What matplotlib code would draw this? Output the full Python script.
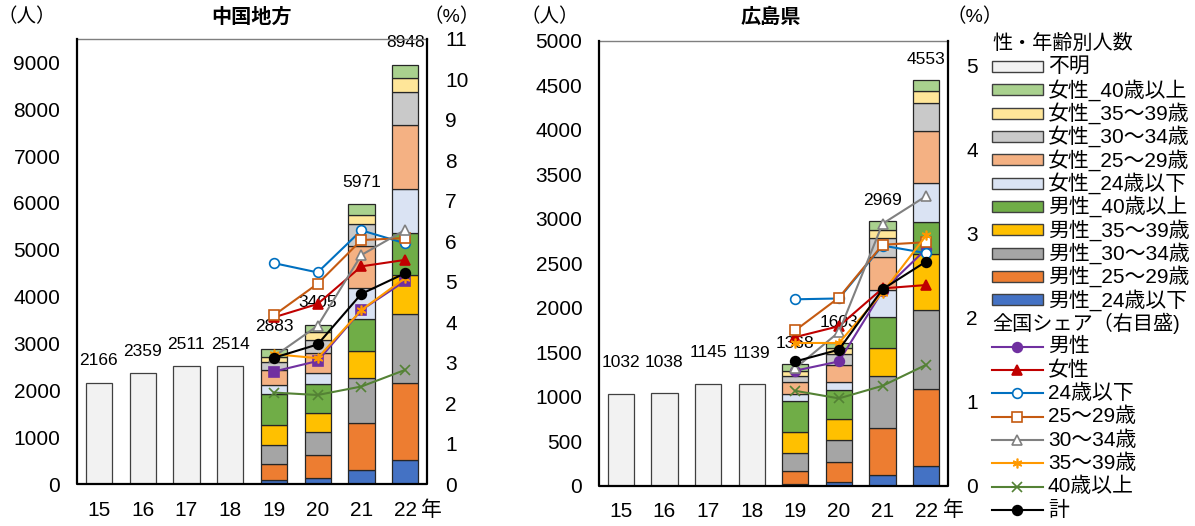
import matplotlib
matplotlib.use('Agg')
import matplotlib.pyplot as plt
from matplotlib.patches import Rectangle
from matplotlib.lines import Line2D
import numpy as np

plt.rcParams['font.family'] = ['Liberation Sans', 'Noto Sans CJK JP']

years = ['15', '16', '17', '18', '19', '20', '21', '22']

age_names = ['24歳以下', '25～29歳', '30～34歳', '35～39歳', '40歳以上']
male_colors = ['#4472C4', '#ED7D31', '#A5A5A5', '#FFC000', '#70AD47']
female_colors = ['#DAE3F3', '#F4B183', '#C9C9C9', '#FFE699', '#A9D18E']
unknown_color = '#F2F2F2'

share_names = ['男性', '女性', '24歳以下', '25～29歳', '30～34歳', '35～39歳', '40歳以上', '計']
share_colors = ['#7030A0', '#C00000', '#0070C0', '#C55A11', '#808080', '#FF9900', '#548235', '#000000']
share_markers = ['o', '^', 'o', 's', '^', (6, 2, 0), 'x', 'o']
share_faces = ['#7030A0', '#C00000', 'white', 'white', 'white', '#FF9900', '#548235', '#000000']

# 中国地方 (15-18: 不明のみ, 19-22: 性・年齢別)
chugoku_unknown = [2166, 2359, 2511, 2514]
chugoku_total = [2883, 3405, 5971, 8948]
chugoku_male = [
    [78, 128, 305, 503],
    [348, 483, 1006, 1658],
    [398, 497, 956, 1460],
    [440, 398, 574, 843],
    [653, 639, 687, 886],
]
chugoku_female = [
    [199, 234, 666, 943],
    [320, 426, 892, 1361],
    [163, 270, 460, 716],
    [114, 163, 205, 298],
    [170, 167, 220, 280],
]
chugoku_share = [
    [2.78, 3.04, 4.30, 5.02],
    [4.12, 4.45, 5.38, 5.54],
    [5.46, 5.23, 6.27, 5.95],
    [4.17, 4.95, 6.03, 6.08],
    [3.15, 3.91, 5.66, 6.28],
    [3.21, 3.11, 4.30, 5.09],
    [2.26, 2.20, 2.41, 2.82],
    [3.12, 3.45, 4.70, 5.21],
]

# 広島県
hiroshima_unknown = [1032, 1038, 1145, 1139]
hiroshima_total = [1368, 1603, 2969, 4553]
hiroshima_male = [
    [19, 39, 120, 225],
    [142, 230, 527, 862],
    [203, 245, 583, 888],
    [238, 230, 320, 626],
    [352, 335, 350, 367],
]
hiroshima_female = [
    [80, 86, 297, 438],
    [130, 195, 376, 581],
    [69, 124, 211, 311],
    [57, 62, 90, 139],
    [78, 57, 95, 116],
]
hiroshima_share = [
    [1.37, 1.48, 2.32, 2.82],
    [1.77, 1.90, 2.35, 2.39],
    [2.22, 2.23, 2.86, 2.77],
    [1.85, 2.24, 2.87, 2.90],
    [1.40, 1.83, 3.12, 3.45],
    [1.70, 1.70, 2.30, 2.98],
    [1.13, 1.04, 1.19, 1.44],
    [1.48, 1.62, 2.34, 2.67],
]

W, H = 1195, 526
fig = plt.figure(figsize=(W / 100, H / 100), dpi=100)
ax_l = fig.add_axes([77 / W, 1 - 484 / H, 350 / W, 445 / H])
ax_r = fig.add_axes([599 / W, 1 - 485.7 / H, 349 / W, 445 / H])


def draw_panel(ax, unknown, totals, male, female, share, ymax, ystep, ymax2, yticks2,
               male_marker, unk_off, tot_off):
    x = np.arange(len(years))
    xo, xn = x[:4], x[4:]
    ax.bar(xo, unknown, width=0.6, color=unknown_color, edgecolor='#404040', linewidth=0.9, zorder=2)
    bottom = np.zeros(4)
    for vals, color in zip(male + female, male_colors + female_colors):
        ax.bar(xn, vals, width=0.6, bottom=bottom, color=color, edgecolor='#262626',
               linewidth=0.9, zorder=2)
        bottom += np.array(vals)
    for xi, v in zip(xo, unknown):
        ax.annotate(str(v), (xi, v), xytext=(0, unk_off), textcoords='offset points',
                    ha='center', va='center', fontsize=12.5)
    for xi, v in zip(xn, totals):
        ax.annotate(str(v), (xi, v), xytext=(0, tot_off), textcoords='offset points',
                    ha='center', va='center', fontsize=12.5)
    ax.set_xlim(-0.5, len(years) - 0.5)
    ax.set_ylim(0, ymax)
    ax.set_yticks(np.arange(0, ymax + 1, ystep))
    ax.set_xticks(x, years)
    ax.tick_params(axis='y', length=0, pad=12, labelsize=15)
    ax.tick_params(axis='x', length=0, pad=12, labelsize=15)
    for s in ax.spines.values():
        s.set_visible(False)

    ax2 = ax.twinx()
    for i, vals in enumerate(share):
        marker = male_marker if i == 0 else share_markers[i]
        ax2.plot(xn, vals, color=share_colors[i], lw=1.5, marker=marker, ms=7,
                 mfc=share_faces[i], mec=share_colors[i], mew=1.2, zorder=3 + i)
    ax2.set_ylim(0, ymax2)
    ax2.set_yticks(yticks2)
    ax2.tick_params(axis='y', length=0, pad=13, labelsize=15)
    for s in ax2.spines.values():
        s.set_visible(False)
    return ax2


draw_panel(ax_l, chugoku_unknown, chugoku_total, chugoku_male, chugoku_female, chugoku_share,
           9500, 1000, 11, range(0, 12), 's', 16, 16)
draw_panel(ax_r, hiroshima_unknown, hiroshima_total, hiroshima_male, hiroshima_female,
           hiroshima_share, 5000, 500, 5.3, range(0, 6), 'o', 22.5, 15)

# overlay in pixel coordinates for frames, titles, units and legend
ov = fig.add_axes([0, 0, 1, 1])
ov.set_xlim(0, W)
ov.set_ylim(H, 0)
ov.axis('off')

for ax in [ax_l, ax_r]:
    p = ax.get_position()
    x0, x1 = p.x0 * W, p.x1 * W
    yb, yt = (1 - p.y0) * H, (1 - p.y1) * H
    ov.plot([x0, x1], [yt, yt], color='#7F7F7F', lw=1.0)
    ov.plot([x0, x0, x1, x1], [yt, yb, yb, yt], color='black', lw=1.6)

ov.text(252, 17, '中国地方', ha='center', va='center', fontsize=14.5, fontweight='bold')
ov.text(771, 17, '広島県', ha='center', va='center', fontsize=14.5, fontweight='bold')
for xp in [27, 550]:
    ov.text(xp, 17, '（人）', ha='center', va='center', fontsize=14)
for xp in [452, 975]:
    ov.text(xp, 17, '（%）', ha='center', va='center', fontsize=14)
for xp in [431, 953]:
    ov.text(xp, 510, '年', ha='center', va='center', fontsize=15)

row0, dy = 43, 23.35
hx0, hx1, tx = 992, 1043, 1048
fs = 15
ov.text(hx0, row0, '性・年齢別人数', ha='left', va='center', fontsize=14.5)
patch_items = [('不明', unknown_color)]
patch_items += [('女性_' + n, c) for n, c in zip(age_names[::-1], female_colors[::-1])]
patch_items += [('男性_' + n, c) for n, c in zip(age_names[::-1], male_colors[::-1])]
for i, (name, color) in enumerate(patch_items):
    y = row0 + dy * (i + 1)
    ov.add_patch(Rectangle((hx0, y - 5.5), hx1 - hx0, 11, facecolor=color,
                           edgecolor='#404040', linewidth=1.0))
    ov.text(tx, y, name, ha='left', va='center', fontsize=fs)
y = row0 + dy * 12
ov.text(hx0, y, '全国シェア（右目盛)', ha='left', va='center', fontsize=14.5)
for i, name in enumerate(share_names):
    y = row0 + dy * (13 + i)
    ov.add_line(Line2D([hx0, hx1], [y, y], color=share_colors[i], lw=1.5))
    ov.add_line(Line2D([(hx0 + hx1) / 2], [y], color=share_colors[i], marker=share_markers[i],
                       ms=7, mfc=share_faces[i], mec=share_colors[i], mew=1.2))
    ov.text(tx, y, name, ha='left', va='center', fontsize=fs)

fig.savefig('out.png', dpi=100)
